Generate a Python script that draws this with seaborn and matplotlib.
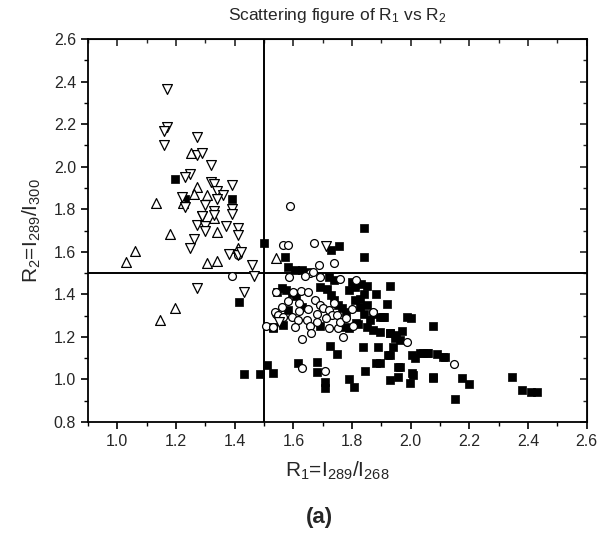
import numpy as np
import pandas as pd
import matplotlib
matplotlib.use("Agg")
import matplotlib.pyplot as plt
from matplotlib.ticker import MultipleLocator
import seaborn as sns

# filled squares
sq_x = [1.197, 1.23, 1.39, 1.50, 1.415, 1.53, 1.84, 1.727, 1.756, 1.84, 1.57, 1.58, 1.605, 1.628,
        1.645, 1.72, 1.74, 1.79, 1.81, 1.545, 1.56, 1.575, 1.594, 1.61, 1.69, 1.713, 1.727, 1.74,
        1.753, 1.764, 1.78, 1.81, 1.827, 1.84, 1.827, 1.918, 1.986, 2.0, 1.87, 1.895, 1.91, 1.58,
        1.628, 1.85, 1.87, 1.895, 1.93, 1.95, 1.906, 2.077, 1.929, 1.946, 1.963, 1.94, 1.929, 2.003,
        2.014, 2.042, 2.06, 2.116, 1.963, 1.895, 2.173, 2.077, 2.008, 1.432, 1.486, 1.51, 1.53,
        1.617, 1.68, 1.68, 1.707, 1.707, 1.725, 1.747, 1.79, 1.806, 1.844, 1.838, 1.883, 1.889,
        1.923, 1.929, 1.957, 1.957, 1.997, 2.003, 2.031, 2.054, 2.077, 2.11, 2.346, 2.378, 2.41,
        2.43, 1.80, 1.83, 1.84, 1.85, 1.86, 1.82, 1.79, 1.88, 1.85, 1.563, 1.53, 1.69, 1.776,
        1.815, 2.15, 2.20, 1.93, 1.97, 2.09]
sq_y = [1.94, 1.85, 1.846, 1.64, 1.365, 1.24, 1.713, 1.608, 1.627, 1.577, 1.577, 1.53, 1.514, 1.514,
        1.506, 1.483, 1.467, 1.42, 1.433, 1.412, 1.428, 1.42, 1.405, 1.39, 1.436, 1.424, 1.397, 1.373,
        1.35, 1.334, 1.318, 1.373, 1.342, 1.31, 1.38, 1.355, 1.295, 1.287, 1.31, 1.295, 1.295, 1.326,
        1.342, 1.248, 1.232, 1.224, 1.217, 1.21, 1.295, 1.252, 1.217, 1.193, 1.185, 1.154, 1.115, 1.115,
        1.099, 1.123, 1.126, 1.107, 1.06, 1.076, 1.005, 1.013, 1.021, 1.025, 1.025, 1.068, 1.032,
        1.079, 1.083, 1.036, 0.958, 0.99, 1.157, 1.12, 1.0, 0.966, 1.041, 1.154, 1.076, 1.154,
        1.115, 0.997, 1.06, 1.013, 0.982, 1.029, 1.123, 1.123, 1.005, 1.107, 1.013, 0.95, 0.943,
        0.943, 1.46, 1.45, 1.40, 1.35, 1.28, 1.26, 1.24, 1.40, 1.44, 1.256, 1.245, 1.25, 1.248,
        1.264, 0.91, 0.98, 1.44, 1.23, 1.12]

# open circles
ci_x = [1.39, 1.41, 1.59, 1.563, 1.58, 1.67, 1.688, 1.74, 1.656, 1.668, 1.586, 1.64, 1.69, 1.76,
        1.815, 1.54, 1.54, 1.506, 1.625, 1.65, 1.673, 1.69, 1.70, 1.72, 1.73, 1.747, 1.87, 1.537,
        1.548, 1.565, 1.594, 1.616, 1.645, 1.53, 1.605, 1.656, 1.66, 1.753, 1.803, 1.986, 2.147,
        1.63, 1.707, 1.60, 1.58, 1.62, 1.65, 1.68, 1.71, 1.76, 1.78, 1.62, 1.56, 1.72, 1.68, 1.74,
        1.80, 1.77, 1.63]
ci_y = [1.486, 1.585, 1.816, 1.632, 1.632, 1.64, 1.538, 1.549, 1.499, 1.506, 1.48, 1.486, 1.483, 1.47,
        1.467, 1.41, 1.31, 1.25, 1.417, 1.412, 1.373, 1.35, 1.334, 1.326, 1.303, 1.303, 1.315, 1.318,
        1.303, 1.295, 1.295, 1.28, 1.28, 1.245, 1.245, 1.25, 1.217, 1.24, 1.25, 1.177, 1.073,
        1.052, 1.04, 1.41, 1.37, 1.36, 1.33, 1.31, 1.29, 1.27, 1.29, 1.32, 1.34, 1.24, 1.27, 1.36,
        1.33, 1.20, 1.19]

# open up triangles
up_x = [1.25, 1.27, 1.26, 1.306, 1.13, 1.225, 1.33, 1.34, 1.18, 1.06, 1.03, 1.41, 1.306, 1.34,
        1.196, 1.145, 1.54]
up_y = [2.065, 1.905, 1.87, 1.866, 1.83, 1.83, 1.757, 1.694, 1.683, 1.605, 1.553, 1.616, 1.546, 1.557,
        1.334, 1.28, 1.57]

# open down triangles
dn_x = [1.17, 1.168, 1.16, 1.27, 1.16, 1.27, 1.29, 1.32, 1.247, 1.23, 1.32, 1.33, 1.39, 1.34, 1.36,
        1.22, 1.34, 1.30, 1.287, 1.33, 1.33, 1.39, 1.39, 1.29, 1.27, 1.30, 1.30, 1.37, 1.41, 1.41,
        1.26, 1.247, 1.38, 1.41, 1.42, 1.46, 1.466, 1.27, 1.43, 1.71, 1.23, 1.55]
dn_y = [2.365, 2.185, 2.17, 2.14, 2.10, 2.055, 2.065, 2.01, 1.965, 1.95, 1.93, 1.92, 1.914, 1.887, 1.866,
        1.856, 1.846, 1.82, 1.77, 1.79, 1.775, 1.80, 1.78, 1.768, 1.726, 1.72, 1.70, 1.72, 1.71, 1.68,
        1.66, 1.62, 1.59, 1.585, 1.60, 1.538, 1.486, 1.428, 1.41, 1.627, 1.81, 1.27]

x_ticks = [1.0, 1.2, 1.4, 1.6, 1.8, 2.0, 2.2, 2.4, 2.6]
y_ticks = [0.8, 1.0, 1.2, 1.4, 1.6, 1.8, 2.0, 2.2, 2.4, 2.6]

sns.set_style("ticks")
plt.rcParams['font.family'] = ['Liberation Sans', 'DejaVu Sans']
plt.rcParams['mathtext.fontset'] = 'custom'
plt.rcParams['mathtext.rm'] = 'Liberation Sans'
plt.rcParams['mathtext.it'] = 'Liberation Sans'

fig = plt.figure(figsize=(6, 5.39), dpi=100)
ax = fig.add_axes([0.1467, 0.217, 0.8313, 0.7106])

sns.scatterplot(x=sq_x, y=sq_y, ax=ax, marker='s', s=32, color='black', edgecolor='black', linewidth=0.5, zorder=3)
sns.scatterplot(x=ci_x, y=ci_y, ax=ax, marker='o', s=32, facecolor='white', edgecolor='black', linewidth=0.9, zorder=4)
sns.scatterplot(x=up_x, y=up_y, ax=ax, marker='^', s=50, facecolor='white', edgecolor='black', linewidth=0.9, zorder=4)
sns.scatterplot(x=dn_x, y=dn_y, ax=ax, marker='v', s=50, facecolor='white', edgecolor='black', linewidth=0.9, zorder=4)

ax.axvline(1.5, color='black', lw=1.4, zorder=2)
ax.axhline(1.5, color='black', lw=1.4, zorder=2)

ax.set_xlim(0.9, 2.6)
ax.set_ylim(0.8, 2.6)
ax.set_xticks(x_ticks)
ax.set_yticks(y_ticks)
ax.set_xticklabels([f"{v:.1f}" for v in x_ticks])
ax.set_yticklabels([f"{v:.1f}" for v in y_ticks])
ax.xaxis.set_minor_locator(MultipleLocator(0.1))
ax.yaxis.set_minor_locator(MultipleLocator(0.1))
ax.tick_params(which='major', direction='out', length=5, width=1.2, labelsize=11.5, color='black')
ax.tick_params(which='minor', direction='out', length=3, width=1.0, color='black')

# mirrored ticks on top and right, pointing inwards
top = ax.secondary_xaxis('top')
top.set_xticks(x_ticks)
top.xaxis.set_minor_locator(MultipleLocator(0.1))
top.tick_params(which='major', direction='in', length=5, width=1.2, labeltop=False)
top.tick_params(which='minor', direction='in', length=3, width=1.0)
right = ax.secondary_yaxis('right')
right.set_yticks(y_ticks)
right.yaxis.set_minor_locator(MultipleLocator(0.1))
right.tick_params(which='major', direction='in', length=5, width=1.2, labelright=False)
right.tick_params(which='minor', direction='in', length=3, width=1.0)

for sp in ax.spines.values():
    sp.set_visible(True)
    sp.set_linewidth(1.3)
    sp.set_color('black')

ax.set_title(r'Scattering figure of R$_1$ vs R$_2$', fontsize=12.5, pad=14)
ax.set_xlabel(r'R$_1$=I$_{289}$/I$_{268}$', fontsize=15, labelpad=8)
ax.set_ylabel(r'R$_2$=I$_{289}$/I$_{300}$', fontsize=15, labelpad=8)
fig.text(0.532, 0.03, '(a)', fontsize=16, fontweight='bold', ha='center')

fig.savefig('out.png', dpi=100)
